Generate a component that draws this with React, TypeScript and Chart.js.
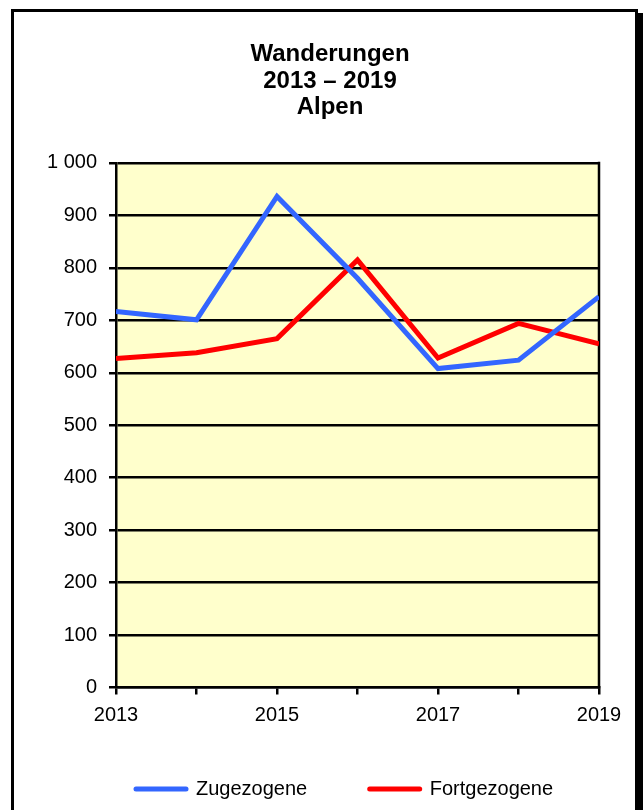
import React, { useEffect, useRef } from 'react';
import { Chart, registerables } from 'chart.js';

Chart.register(...registerables);

// ---- data ----
const years = ['2013', '2014', '2015', '2016', '2017', '2018', '2019'];
const zugezogene = [717, 701, 936, 780, 608, 624, 745];
const fortgezogene = [627, 638, 665, 815, 628, 694, 655];
const seriesNames = ['Zugezogene', 'Fortgezogene'];
const titleLines = ['Wanderungen', '2013 – 2019', 'Alpen'];
const yMin = 0;
const yMax = 1000;
const yStep = 100;
const xLabelEvery = 2;

const FONT = '"Liberation Sans", Arial, Helvetica, sans-serif';
const W = 643;
const H = 810;

const fmtThousands = (v: number) => String(v).replace(/\B(?=(\d{3})+(?!\d))/g, ' ');

const plotFrame = {
  id: 'plotFrame',
  beforeDraw(chart: any) {
    const { ctx, chartArea: a } = chart;
    ctx.save();
    ctx.fillStyle = '#FFFFCC';
    ctx.fillRect(a.left, a.top, a.right - a.left, a.bottom - a.top);
    ctx.restore();
  },
  beforeDatasetsDraw(chart: any) {
    const { ctx, chartArea: a } = chart;
    ctx.save();
    ctx.strokeStyle = '#000';
    ctx.lineWidth = 2.5;
    ctx.beginPath();
    ctx.moveTo(a.right, a.top - 1.25);
    ctx.lineTo(a.right, a.bottom + 1.25);
    ctx.stroke();
    ctx.restore();
  },
  afterLayout(chart: any) {
    const lg = chart.legend;
    if (lg) {
      lg.left += 53.5;
      lg.right += 53.5;
    }
    const t = chart.titleBlock;
    if (t) {
      t.left += 20.5;
      t.right += 20.5;
    }
    const xs = chart.scales.x;
    if (xs) {
      xs.bottom = xs.top + 45;
    }
  },
};

export default function App() {
  const ref = useRef<HTMLCanvasElement | null>(null);

  useEffect(() => {
    if (!ref.current) return;
    Chart.defaults.font.family = FONT;
    Chart.defaults.color = '#000';
    const chart = new Chart(ref.current, {
      type: 'line',
      data: {
        labels: years,
        datasets: [
          {
            label: seriesNames[0],
            data: zugezogene,
            borderColor: '#3366FF',
            backgroundColor: '#3366FF',
            borderWidth: 5,
            pointRadius: 0,
            pointHoverRadius: 0,
            pointBorderWidth: 5,
            tension: 0,
            clip: 0,
          },
          {
            label: seriesNames[1],
            data: fortgezogene,
            borderColor: '#FF0000',
            backgroundColor: '#FF0000',
            borderWidth: 5,
            pointRadius: 0,
            pointHoverRadius: 0,
            pointBorderWidth: 5,
            tension: 0,
            clip: 0,
          },
        ],
      },
      options: {
        animation: false,
        responsive: false,
        maintainAspectRatio: false,
        devicePixelRatio: 1,
        layout: { padding: { left: 20, right: 44, top: 0, bottom: 1 } },
        plugins: {
          title: {
            display: true,
            text: titleLines,
            color: '#000',
            font: { family: FONT, size: 24, weight: 'bold', lineHeight: 1.11 },
            padding: { top: 41, bottom: 42 },
          },
          legend: {
            display: true,
            position: 'bottom',
            align: 'start',
            labels: {
              color: '#000',
              font: { family: FONT, size: 20 },
              usePointStyle: true,
              pointStyle: 'line',
              pointStyleWidth: 50,
              padding: 62.5,
              generateLabels: (c: any) =>
                (Chart.defaults.plugins.legend.labels as any)
                  .generateLabels(c)
                  .map((l: any) => ({ ...l, lineCap: 'round', lineWidth: 5, pointStyle: 'line' })),
            },
          },
          tooltip: { enabled: false },
        },
        scales: {
          x: {
            type: 'category',
            offset: false,
            grid: {
              display: true,
              drawOnChartArea: false,
              drawTicks: true,
              tickLength: 7,
              color: '#000',
              lineWidth: 2.5,
            },
            border: { display: true, color: '#000', width: 2.5 },
            ticks: {
              autoSkip: false,
              maxRotation: 0,
              minRotation: 0,
              padding: 9,
              color: '#000',
              font: { family: FONT, size: 20 },
              callback: (_v: any, i: number) => (i % xLabelEvery === 0 ? years[i] : ''),
            },
            afterFit: (s: any) => {
              s.height = 29;
            },
          },
          y: {
            type: 'linear',
            min: yMin,
            max: yMax,
            grid: {
              display: true,
              drawOnChartArea: true,
              drawTicks: true,
              tickLength: 7,
              color: '#000',
              lineWidth: 2.5,
            },
            border: { display: true, color: '#000', width: 2.5 },
            ticks: {
              stepSize: yStep,
              padding: 12,
              color: '#000',
              font: { family: FONT, size: 20 },
              callback: (v: any) => fmtThousands(Number(v)),
            },
            afterFit: (s: any) => {
              s.width = 96;
            },
          },
        },
      },
      plugins: [plotFrame],
    } as any);
    return () => chart.destroy();
  }, []);

  return (
    <div
      style={{
        position: 'fixed',
        left: 0,
        top: 0,
        width: W,
        height: H,
        overflow: 'hidden',
        background: '#fff',
      }}
    >
      <div
        style={{
          position: 'absolute',
          left: 11,
          top: 9,
          width: 627,
          height: 900,
          boxSizing: 'border-box',
          border: '3px solid #000',
          boxShadow: '5px 4px 0 #000',
        }}
      />
      <canvas
        ref={ref}
        width={W}
        height={H}
        style={{ position: 'absolute', left: 0, top: 0, width: W, height: H }}
      />
    </div>
  );
}
